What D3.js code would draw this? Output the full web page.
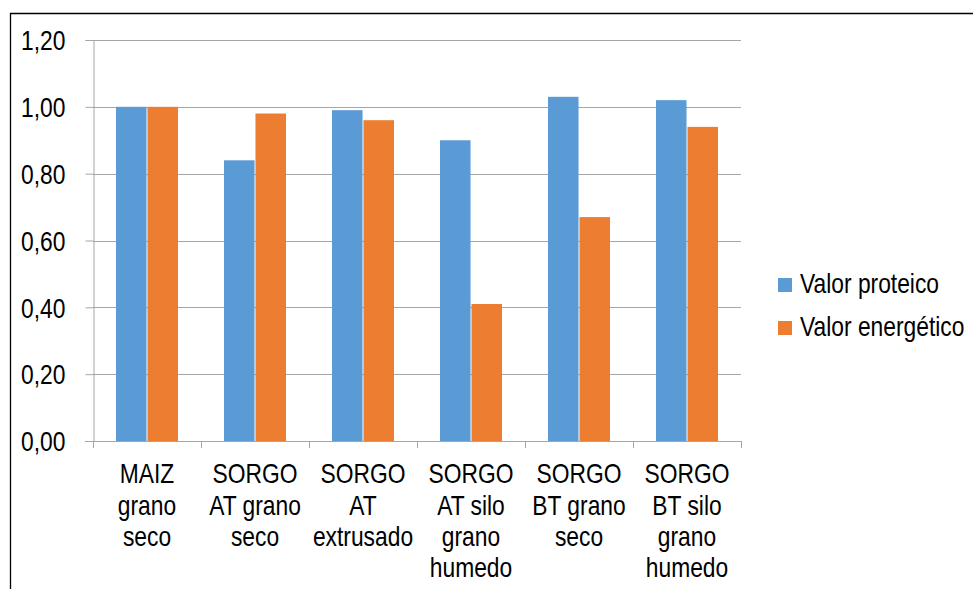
<!DOCTYPE html>
<html>
<head>
<meta charset="utf-8">
<script src="https://cdn.jsdelivr.net/npm/d3@7"></script>
<style>
  html, body { margin: 0; padding: 0; background: #ffffff; }
  svg { display: block; }
  text { font-family: "Liberation Sans Narrow", "Arial Narrow", "Liberation Sans", Arial, sans-serif; fill: #000; }
</style>
</head>
<body>
<svg id="chart" width="973" height="589"></svg>
<script>
const categories = [
  ["MAIZ", "grano", "seco"],
  ["SORGO", "AT grano", "seco"],
  ["SORGO", "AT", "extrusado"],
  ["SORGO", "AT silo", "grano", "humedo"],
  ["SORGO", "BT grano", "seco"],
  ["SORGO", "BT silo", "grano", "humedo"]
];
const seriesNames = ["Valor proteico", "Valor energético"];
const valorProteico = [1.00, 0.84, 0.99, 0.90, 1.03, 1.02];
const valorEnergetico = [1.00, 0.98, 0.96, 0.41, 0.67, 0.94];
const yTicks = [0, 0.2, 0.4, 0.6, 0.8, 1.0, 1.2];
const colors = ["#5B9BD5", "#ED7D31"];

const SX = 0.845; // horizontal condensation to mimic Arial Narrow
const FS = 27;
const svg = d3.select("#chart");
const catKeys = categories.map(c => c.join(" "));
const seriesValues = [valorProteico, valorEnergetico];

const x0 = d3.scaleBand().domain(catKeys).range([93, 741]).padding(0);
const x1 = d3.scaleBand().domain(seriesNames).range([23, 85]).paddingInner(0.03);
const y = d3.scaleLinear().domain([0, 1.2]).range([441, 40]);

// Outer frame (left and top only visible)
svg.append("path")
  .attr("d", "M10.5,589 L10.5,13.5 L973,13.5")
  .attr("fill", "none").attr("stroke", "#000").attr("stroke-width", 1.3);

// Y axis
const yAxis = d3.axisLeft(y).tickValues(yTicks).tickSize(8)
  .tickFormat(d => d3.format(".2f")(d).replace(".", ","));
const gy = svg.append("g").attr("transform", "translate(93.5,0)").call(yAxis);
gy.attr("font-family", null).attr("font-size", null);
gy.select(".domain").attr("stroke", "#a6a6a6");
gy.selectAll(".tick line").attr("stroke", "#a6a6a6");
gy.selectAll(".tick text")
  .attr("x", -28 / SX).attr("dy", "0.36em")
  .attr("transform", `scale(${SX},1)`)
  .attr("font-size", FS).attr("fill", "#000");

// Gridlines
svg.append("g").selectAll("line").data(yTicks.filter(d => d > 0)).join("line")
  .attr("x1", 93).attr("x2", 741)
  .attr("y1", d => Math.round(y(d)) + 0.5).attr("y2", d => Math.round(y(d)) + 0.5)
  .attr("stroke", "#a6a6a6").attr("stroke-width", 1);

// Bars
const groups = svg.append("g").selectAll("g").data(catKeys).join("g")
  .attr("transform", d => `translate(${x0(d)},0)`);
groups.selectAll("rect").data((d, i) => seriesNames.map((s, j) => ({ s, v: seriesValues[j][i], j })))
  .join("rect")
  .attr("x", d => x1(d.s))
  .attr("width", x1.bandwidth())
  .attr("y", d => y(d.v))
  .attr("height", d => y(0) - y(d.v))
  .attr("fill", d => colors[d.j]);

// X axis
svg.append("line").attr("x1", 85).attr("x2", 741).attr("y1", 441.5).attr("y2", 441.5)
  .attr("stroke", "#a6a6a6");
const bounds = catKeys.map(k => x0(k)).concat([x0.range()[1]]);
svg.append("g").selectAll("line").data(bounds).join("line")
  .attr("x1", d => Math.round(d) + 0.5).attr("x2", d => Math.round(d) + 0.5)
  .attr("y1", 441).attr("y2", 448).attr("stroke", "#a6a6a6");

// X labels
const labelGroups = svg.append("g").selectAll("g").data(categories).join("g")
  .attr("transform", (d, i) => `translate(${x0(catKeys[i]) + x0.bandwidth() / 2},0) scale(${SX},1)`);
const labels = labelGroups.append("text").attr("text-anchor", "middle").attr("font-size", FS);
labels.selectAll("tspan").data(d => d).join("tspan")
  .attr("x", 0)
  .attr("y", (d, k) => 483.5 + k * 31.2)
  .text(d => d);

// Legend
const legend = svg.append("g").selectAll("g").data(seriesNames).join("g")
  .attr("transform", (d, i) => `translate(778,${278 + i * 43})`);
legend.append("rect").attr("width", 14).attr("height", 14).attr("fill", (d, i) => colors[i]);
legend.append("text").attr("transform", `translate(22,14.5) scale(${SX},1)`)
  .attr("font-size", FS).text(d => d);
</script>
</body>
</html>
